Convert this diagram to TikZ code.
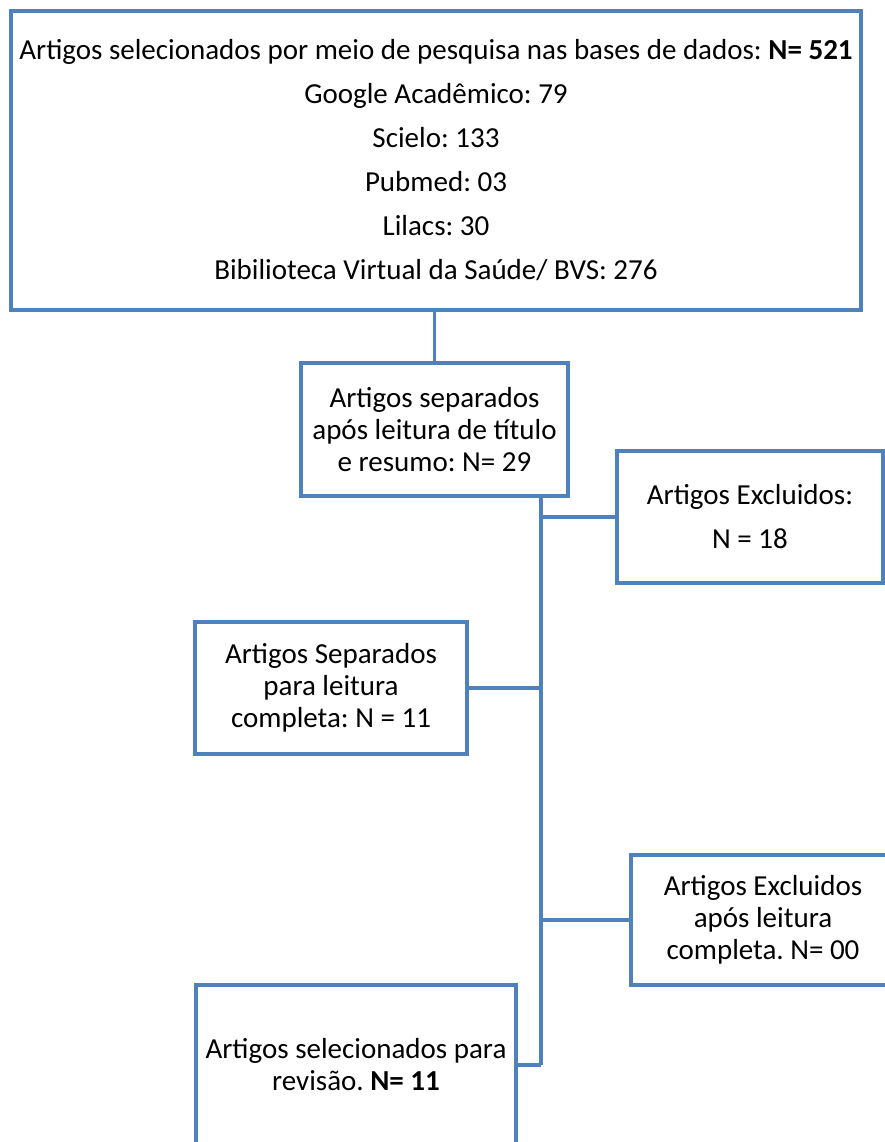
\documentclass[tikz,border=0pt]{standalone}
\usepackage{fontspec}
\setmainfont{Carlito}
\definecolor{boxblue}{HTML}{4F81BD}
\begin{document}
\frenchspacing
\begin{tikzpicture}[x=1pt,y=1pt,
  box/.style={draw=boxblue, line width=3.2pt, inner sep=0pt, align=center,
    font=\fontsize{29}{32}\selectfont},
  conn/.style={draw=boxblue, line width=3.2pt}]
\clip (0,0) rectangle (885,-1142);
\fill[white] (0,0) rectangle (885,-1142);
\node[box, minimum width=850, minimum height=299] (top) at (436,-160.5)
  {Artigos selecionados por meio de pesquisa nas bases de dados: \textbf{N= 521}\\[12pt]
   Google Acadêmico: 79\\[12pt]
   Scielo: 133\\[12pt]
   Pubmed: 03\\[12pt]
   Lilacs: 30\\[12pt]
   Bibilioteca Virtual da Saúde/ BVS: 276};
\node[box, minimum width=267, minimum height=133] (sep) at (434.5,-429.5)
  {Artigos separados\\após leitura de título\\e resumo: N= 29};
\node[box, minimum width=266, minimum height=132] (exc) at (750,-517)
  {Artigos Excluidos:\\[12pt]N = 18};
\node[box, minimum width=272, minimum height=132] (full) at (331,-688)
  {Artigos Separados\\para leitura\\completa: N = 11};
\node[box, minimum width=264, minimum height=130] (exc2) at (763,-920)
  {Artigos Excluidos\\após leitura\\completa. N= 00};
\node[box, minimum width=320, minimum height=160] (rev) at (356,-1065)
  {Artigos selecionados para\\revisão. \textbf{N= 11}};
\coordinate (tr) at (541,0);
\draw[conn] (top.south -| sep.north) -- (sep.north);
\draw[conn] (sep.south -| tr) -- (rev.east -| tr);
\draw[conn] (exc.west -| tr) -- (exc.west);
\draw[conn] (full.east) -- (full.east -| tr);
\draw[conn] (exc2.west -| tr) -- (exc2.west);
\draw[conn] (rev.east) -- (rev.east -| tr);
\end{tikzpicture}
\end{document}
